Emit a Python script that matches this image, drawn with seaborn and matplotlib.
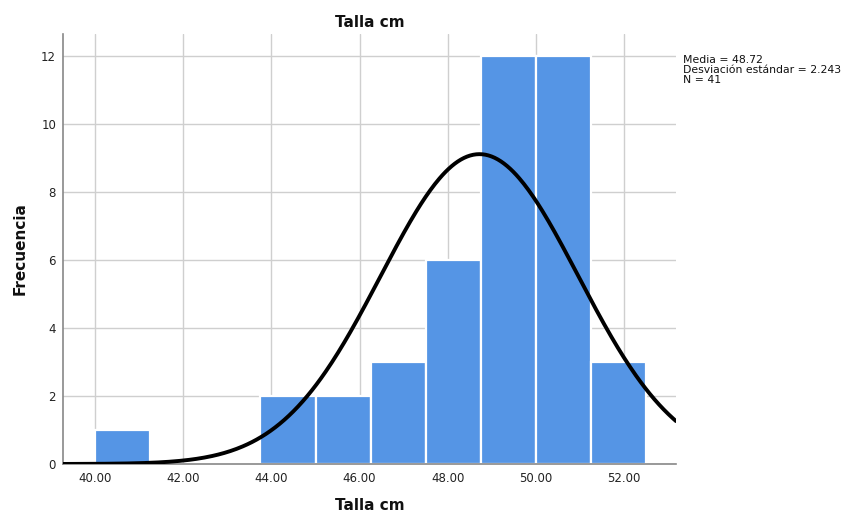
import numpy as np
import pandas as pd
import matplotlib
matplotlib.use("Agg")
import matplotlib.pyplot as plt
import seaborn as sns

# Histogram of height (cm): bin edges and frequency per bin
bin_edges = [40.00, 41.25, 42.50, 43.75, 45.00, 46.25, 47.50, 48.75, 50.00, 51.25, 52.50]
counts = [1, 0, 0, 2, 2, 3, 6, 12, 12, 3]

# Summary statistics shown beside the plot
mean_val = 48.72
std_val = 2.243
n_val = 41

x_ticks = [40.0, 42.0, 44.0, 46.0, 48.0, 50.0, 52.0]
y_ticks = [0, 2, 4, 6, 8, 10, 12]
x_limits = (39.27, 53.18)

sns.set_theme(style="white")
plt.rcParams["font.family"] = ["DejaVu Sans"]

fig = plt.figure(figsize=(8.49, 5.16), dpi=100)
ax = fig.add_axes([63 / 849, 52 / 516, (676 - 63) / 849, (464 - 34) / 516])

centers = [(a + b) / 2 for a, b in zip(bin_edges[:-1], bin_edges[1:])]
df = pd.DataFrame({"talla": centers, "freq": counts})
sns.histplot(data=df, x="talla", weights="freq", bins=bin_edges, ax=ax,
             color="#5595E5", alpha=1.0, edgecolor="white", linewidth=1.6,
             zorder=2)

# Fitted normal curve scaled to the counts (N * bin width)
bw = bin_edges[1] - bin_edges[0]
xs = np.linspace(x_limits[0], x_limits[1], 400)
ys = n_val * bw / (std_val * np.sqrt(2 * np.pi)) * np.exp(-0.5 * ((xs - mean_val) / std_val) ** 2)
sns.lineplot(x=xs, y=ys, ax=ax, color="black", linewidth=2.8, zorder=3)

ax.set_xlim(*x_limits)
ax.set_ylim(0, 12.65)
ax.set_xticks(x_ticks)
ax.set_xticklabels([f"{t:.2f}" for t in x_ticks])
ax.set_yticks(y_ticks)
ax.tick_params(axis="x", length=0, labelsize=8.5, colors="#222222", pad=6)
ax.tick_params(axis="y", length=0, labelsize=8.5, colors="#222222", pad=5)

ax.grid(True, color="#cfcfcf", linewidth=1.0, zorder=0)
ax.set_axisbelow(True)
for side in ["top", "right"]:
    ax.spines[side].set_visible(False)
for side in ["left", "bottom"]:
    ax.spines[side].set_color("#888888")
    ax.spines[side].set_linewidth(1.2)

ax.set_title("Talla cm", fontsize=11, fontweight="bold", pad=5, color="#111111")
ax.set_xlabel("Talla cm", fontsize=11, fontweight="bold", labelpad=9, color="#111111")
ax.set_ylabel("Frecuencia", fontsize=11, fontweight="bold", labelpad=10, color="#111111")

fig.text(683 / 849, 1 - 55 / 516,
         f"Media = {mean_val:.2f}\nDesviación estándar = {std_val:.3f}\nN = {n_val}",
         fontsize=7.8, va="top", ha="left", linespacing=1.02, color="#111111")

fig.savefig("out.png", dpi=100, facecolor="white")
